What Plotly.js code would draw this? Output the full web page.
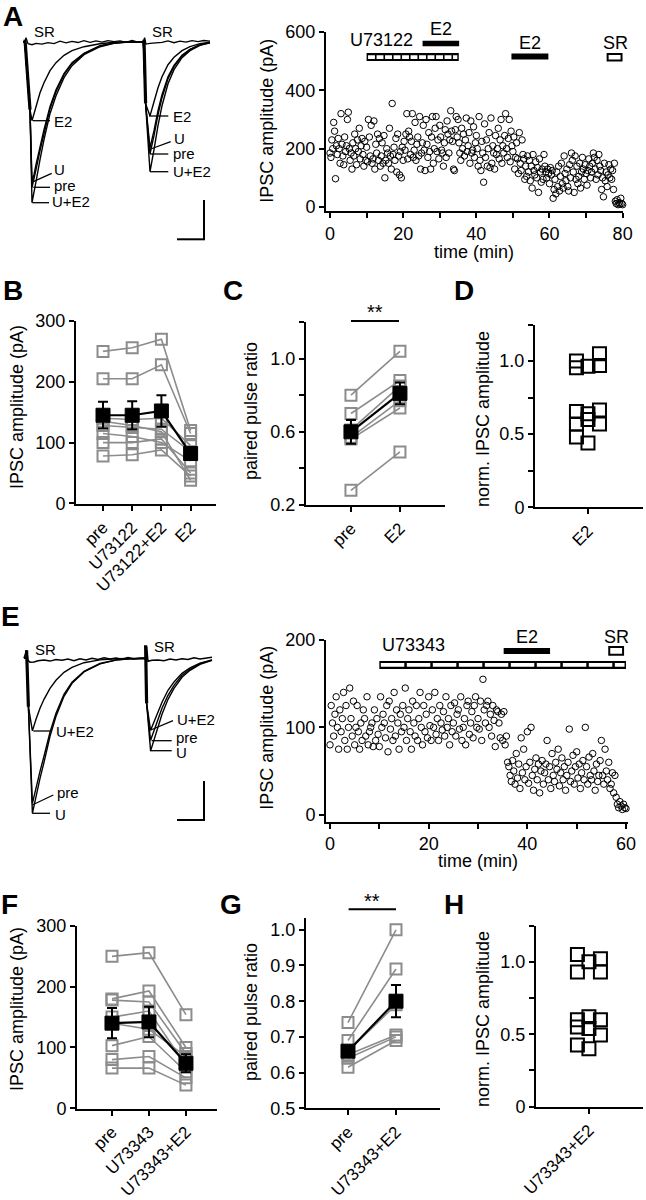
<!DOCTYPE html>
<html><head><meta charset="utf-8">
<script src="https://cdn.plot.ly/plotly-3.0.1.min.js"></script>
<style>html,body{margin:0;padding:0;background:#fff}#fig{width:646px;height:1200px}</style>
</head><body><div id="fig"></div>
<script>
// ---------- DATA ----------
// Panel A traces (time ms, current pA)
const tA = [11.5,12.5,13.5,15,16,17,18,20,22,25,28,32,36,42,50,57,64,71.7,72.3,72.8,75,76,77,79,81,84,87,91,95,100,105];
const aUE2 = [0,0,-150,-340,-805,-760,-700,-590,-490,-360,-270,-180,-120,-65,-25,-8,-2,0,-150,-310,-650,-600,-540,-420,-320,-210,-140,-80,-45,-18,-5];
const aPre = [0,0,-150,-340,-728,-690,-640,-545,-455,-335,-250,-165,-110,-60,-22,-7,-2,0,-150,-310,-561,-520,-470,-365,-280,-185,-125,-72,-40,-16,-4];
const aU   = [0,0,-150,-340,-700,-665,-615,-525,-440,-325,-240,-160,-105,-58,-20,-6,-1,0,-150,-310,-531,-495,-445,-345,-265,-175,-118,-68,-38,-15,-4];
const aE2  = [0,0,-150,-340,-395,-360,-320,-255,-205,-145,-105,-68,-45,-25,-10,-3,-1,0,-150,-310,-371,-340,-300,-230,-175,-115,-78,-45,-25,-10,-3];
const tSR = [11.5,12.5,13,14,16,18,21,24,27,30,33,36,39,42,45,48,51,54,57,60,63,66,69,71.7,72.3,73,75,78,81,84,87,90,93,96,99,102,105];
const aSR = [0,0,20,-10,-15,-8,-12,-5,-10,3,-6,2,-4,5,-3,4,-2,5,0,4,-3,6,-2,0,20,-12,-8,-6,-3,4,-5,3,-2,5,0,6,3];
const tArtA = [12.5,15,null,72,72.8];
const aArt  = [10,-340,null,10,-307];

// Panel A time course (pA), one value every 0.25 min from 0 to 80 min
const aAmp = [
185,170,230,200, 290,260,97,210, 180,235,200,150, 320,215,175,145, 240,190,210,300,
325,200,160,185, 130,220,175,250, 200,145,230,190, 270,165,210,235, 180,140,225,160,
205,155,300,240, 175,280,150,165, 295,130,215,185, 250,160,235,140, 175,220,150,245,
100,160,200,185, 150,270,175,130, 355,180,205,160, 235,120,250,175, 110,190,100,205,
160,225,195,250, 320,165,260,240, 180,225,320,170, 195,290,160,215, 240,175,310,130,
185,220,280,195, 125,300,215,170, 255,190,130,240, 310,150,200,270, 310,190,230,165,
280,240,195,185, 140,220,265,170, 295,250,185,230, 330,260,225,130, 125,265,310,240,
300,220,185,160, 270,200,250,175, 230,305,190,210, 255,150,295,185, 195,275,170,220,
245,200,140,310, 160,125,225,185, 85,285,170,230, 140,200,255,135, 305,150,210,185,
130,245,180,200, 270,165,230,300, 150,210,185,245, 320,200,170,235, 300,155,260,210,
190,240,130,170, 220,165,115,255, 150,125,230,180, 165,95,140,105, 175,120,160,90,
140,65,180,125, 110,155,100,135, 50,165,120,85, 130,95,180,140, 120,100,130,115,
80,135,110,125, 30,60,95,45, 120,70,140,55, 105,150,80,65, 175,115,90,130,
70,55,145,100, 185,160,120,50, 175,95,140,80, 105,150,65,120, 170,130,95,145,
115,75,125,165, 140,100,120,150, 185,170,130,95, 160,110,180,140, 125,60,100,35,
150,90,120,70, 110,145,100,130, 95,125,60,150, 20,12,25,8, 15,10,30,12,
8];
// drug application periods (min) panel A
const aU73122 = [10, 35.2];
const aE2first = [25.3, 35.3];
const aE2second = [49.6, 59.7];
const aSRperiod = [75.9, 79.7];

// Panel B
const bCats = ["pre","U73122","U73122+E2","E2"];
const bPre    = [250,205,140,128,115,100,78,135];
const bU73122 = [256,205,138,125,110,100,80,128];
const bUE2    = [270,228,140,122,100,106,88,118];
const bE2     = [120,115,95,85,70,50,45,38];
const bMean = [145,145,152,82];
const bSem  = [22,23,26,10];

// Panel C
const cCats = ["pre","E2"];
const cPre = [0.80,0.70,0.61,0.57,0.56,0.28];
const cE2  = [1.04,0.88,0.85,0.77,0.73,0.49];
const cMean = [0.60,0.81];
const cSem  = [0.065,0.06];

// Panel D (normalized amplitude, column offset)
const dCats = ["E2"];
const dVal    = [1.0,0.955,0.965,1.05,0.97, 0.655,0.64,0.665,0.57,0.6,0.57,0.48,0.44];
const dColumn = [-1,-1,0,1,1, -1,0,1,-1,0,1,-1,0];

// Panel E traces
const tE = [12,13.3,13.8,14.2,16.2,17,18,20,22,25,28,32,36,42,50,58,65,72.8,73.1,73.3,75.3,76,77,79,81,84,87,91,95,100,106];
const eU   = [0,0,-100,-242,-775,-735,-690,-600,-520,-390,-290,-190,-125,-68,-28,-9,-3,0,-100,-225,-463,-440,-410,-340,-280,-205,-150,-95,-60,-30,-10];
const ePre = [0,0,-100,-242,-725,-690,-650,-565,-490,-370,-275,-180,-120,-65,-26,-8,-3,0,-100,-225,-410,-390,-365,-305,-250,-185,-135,-85,-55,-27,-9];
const eUE2 = [0,0,-100,-242,-363,-335,-305,-250,-205,-150,-110,-70,-45,-22,-8,-2,0,0,-100,-225,-360,-342,-320,-265,-220,-160,-118,-75,-48,-24,-8];
const tSRE = [12,13.3,14,15,17,19,22,25,28,31,34,37,40,43,46,49,52,55,58,61,64,67,70,72.8,73.3,74,76,79,82,85,88,91,94,97,100,103,106];
const eSR  = [0,40,-10,-20,-18,-12,-8,-14,-6,-10,-4,-12,-2,-8,0,-6,3,-4,2,-5,4,-3,0,0,60,-15,-10,-8,-12,-4,-9,-2,-6,3,-4,2,5];
const tArtE = [13.3,14.2,null,72.8,73.3];
const eArt  = [40,-242,null,65,-225];

// Panel E time course (pA), one value every 0.25 min from 0 to 60 min
const eAmp = [
80,125,105,90, 115,135,100,75, 120,95,110,140, 85,125,75,100, 145,110,90,130,
80,100,125,95, 75,105,85,120, 110,90,135,80, 95,100,105,78, 120,85,110,92,
78,135,100,115, 105,88,125,72, 130,98,110,85, 140,90,120,105, 75,115,95,125,
100,145,85,110, 120,95,75,130, 105,90,125,85, 110,140,100,80, 125,95,115,88,
135,102,85,120, 100,140,92,110, 85,125,105,97, 118,90,135,100, 110,80,125,95,
105,128,90,115, 120,98,135,85, 100,110,80,125, 130,92,105,118, 88,125,135,100,
110,98,130,85, 155,120,105,125, 130,100,115,90, 125,108,78,120, 118,105,88,115,
85,118,80,90, 60,55,45,38, 62,50,35,70, 42,58,30,88, 48,75,40,55,
95,36,60,100, 45,28,52,65, 40,58,25,50, 62,35,48,58, 85,40,55,30,
70,45,38,60, 52,75,33,48, 65,40,55,28, 45,60,98,38, 50,68,35,55,
72,42,58,30, 48,62,40,100, 55,35,66,45, 40,70,50,28, 58,38,45,62,
85,45,35,75, 50,40,60,30, 35,48,25,45, 20,12,8,15, 10,6,12,8,
7];
const eU73343 = [10, 60];
const eE2 = [35.2, 44.6];
const eSRperiod = [56.6, 59.4];

// Panel F
const fCats = ["pre","U73343","U73343+E2"];
const fPre  = [250,180,178,103,80,66,140,150];
const fU    = [256,193,175,118,85,66,130,160];
const fUE2  = [154,100,90,60,50,38,85,70];
const fMean = [140,142,74];
const fSem  = [25,25,15];

// Panel G
const gCats = ["pre","U73343+E2"];
const gPre = [0.74,0.69,0.66,0.64,0.615,0.65];
const gE2  = [1.0,0.89,0.79,0.70,0.69,0.705];
const gMean = [0.66,0.80];
const gSem  = [0.012,0.045];

// Panel H
const hCats = ["U73343+E2"];
const hVal    = [1.05,0.93,1.0,1.02,0.93, 0.60,0.425,0.62,0.54,0.40,0.60,0.495,0.55];
const hColumn = [-1,-1,0,1,1, -1,-1,0,0,0,1,1,-1];

// ---------- LAYOUT HELPERS ----------
const W = 646, H = 1200;
const px = x => x / W;
const py = y => 1 - y / H;
const dX = (a, b) => [a / W, b / W];
const dY = (top, bottom) => [1 - bottom / H, 1 - top / H];
const FONT = 'Liberation Sans, Arial, Helvetica, sans-serif';
const GRAY = '#8c8c8c';

function ax(extra) {
  return Object.assign({
    showline: true, linecolor: '#000', linewidth: 2, ticks: 'outside', ticklen: 5,
    tickwidth: 2, tickcolor: '#000', showgrid: false, zeroline: false,
    tickfont: {size: 18, color: '#000', family: FONT}, fixedrange: true, automargin: false
  }, extra);
}
const rotFont = {size: 17, color: '#000', family: FONT};

const data = [];
function addLine(x, y, xa, ya, color, width) {
  data.push({type: 'scatter', mode: 'lines', x: x, y: y, xaxis: xa, yaxis: ya,
    line: {color: color, width: width}, hoverinfo: 'skip', connectgaps: false});
}
// A traces
[aUE2, aPre, aU, aE2].forEach(v => addLine(tA, v, 'x', 'y', '#000', 1.4));
addLine(tSR, aSR, 'x', 'y', '#000', 1.3);
addLine(tArtA, aArt, 'x', 'y', '#000', 3.2);
// E traces
[eU, ePre, eUE2].forEach(v => addLine(tE, v, 'x6', 'y6', '#000', 1.4));
addLine(tSRE, eSR, 'x6', 'y6', '#000', 1.5);
addLine(tArtE, eArt, 'x6', 'y6', '#000', 3.2);

// time courses
const circ = {symbol: 'circle-open', size: 6.5, color: '#000', line: {width: 1, color: '#000'}};
data.push({type: 'scatter', mode: 'markers', y: aAmp, x0: 0, dx: 0.25, xaxis: 'x2', yaxis: 'y2', marker: circ, cliponaxis: false});
data.push({type: 'scatter', mode: 'markers', y: eAmp, x0: 0, dx: 0.25, xaxis: 'x7', yaxis: 'y7', marker: circ, cliponaxis: false});

const grayMk = {symbol: 'square-open', size: 11, color: GRAY, line: {width: 2, color: GRAY}};
const meanMk = {symbol: 'square', size: 14, color: '#000', line: {width: 1, color: '#000'}};
function pairedPanel(cols, mean, sem, xa, ya) {
  const n = cols[0].length;
  const xs = cols.map((c, i) => i);
  for (let k = 0; k < n; k++) {
    data.push({type: 'scatter', mode: 'lines+markers', x: xs, y: cols.map(c => c[k]), xaxis: xa, yaxis: ya,
      line: {color: GRAY, width: 1.6}, marker: grayMk, cliponaxis: false});
  }
  data.push({type: 'scatter', mode: 'lines+markers', x: xs, y: mean, xaxis: xa, yaxis: ya,
    line: {color: '#000', width: 2.2}, marker: meanMk, cliponaxis: false,
    error_y: {type: 'data', array: sem, visible: true, color: '#000', thickness: 2, width: 5}});
}
pairedPanel([bPre, bU73122, bUE2, bE2], bMean, bSem, 'x3', 'y3');
pairedPanel([cPre, cE2], cMean, cSem, 'x4', 'y4');
pairedPanel([fPre, fU, fUE2], fMean, fSem, 'x8', 'y8');
pairedPanel([gPre, gE2], gMean, gSem, 'x9', 'y9');

const normMk = {symbol: 'square-open', size: 13, color: '#000', line: {width: 2, color: '#000'}};
data.push({type: 'scatter', mode: 'markers', x: dColumn, y: dVal, xaxis: 'x5', yaxis: 'y5', marker: normMk, cliponaxis: false});
data.push({type: 'scatter', mode: 'markers', x: hColumn, y: hVal, xaxis: 'x10', yaxis: 'y10', marker: normMk, cliponaxis: false});

// ---------- AXES ----------
const layout = {
  width: W, height: H, margin: {l: 0, r: 0, t: 0, b: 0}, showlegend: false,
  paper_bgcolor: '#fff', plot_bgcolor: 'rgba(0,0,0,0)', font: {family: FONT, color: '#000', size: 18},
  // A traces
  xaxis: {visible: false, domain: dX(0, 230), range: [0, 115], anchor: 'y', fixedrange: true},
  yaxis: {visible: false, domain: dY(0, 240), range: [-991.5, 208.5], anchor: 'x', fixedrange: true},
  // A time course
  xaxis2: ax({domain: dX(326, 623), range: [-1.1, 80.1], anchor: 'y2', tick0: 0, dtick: 20,
    minor: {dtick: 10, ticks: 'outside', ticklen: 5, tickwidth: 2, tickcolor: '#000'}}),
  yaxis2: ax({domain: dY(32, 211), range: [-13.7, 600], anchor: 'x2', tickvals: [0, 200, 400, 600]}),
  // B
  xaxis3: ax({domain: dX(76, 216), range: [-0.925, 3.87], anchor: 'y3', tickvals: [0, 1, 2, 3], ticktext: bCats, tickangle: -45, tickfont: rotFont}),
  yaxis3: ax({domain: dY(321, 504), range: [-1, 300], anchor: 'x3', tickvals: [0, 100, 200, 300]}),
  // C
  xaxis4: ax({domain: dX(306, 445), range: [-0.918, 1.92], anchor: 'y4', tickvals: [0, 1], ticktext: cCats, tickangle: -45, tickfont: rotFont}),
  yaxis4: ax({domain: dY(322, 505), range: [0.2, 1.2], anchor: 'x4', tickvals: [0.2, 0.6, 1.0], ticktext: ['0.2', '0.6', '1.0'],
    minor: {tickvals: [0.4, 0.8, 1.2], ticks: 'outside', ticklen: 5, tickwidth: 2, tickcolor: '#000'}}),
  // D
  xaxis5: ax({domain: dX(535, 643), range: [-4.6, 4.78], anchor: 'y5', tickvals: [0], ticktext: dCats, tickangle: -45, tickfont: rotFont}),
  yaxis5: ax({domain: dY(324.5, 507.3), range: [0, 1.25], anchor: 'x5', tickvals: [0, 0.5, 1.0], ticktext: ['0', '0.5', '1.0'],
    minor: {tickvals: [0.25, 0.75, 1.25], ticks: 'outside', ticklen: 5, tickwidth: 2, tickcolor: '#000'}}),
  // E traces
  xaxis6: {visible: false, domain: dX(0, 230), range: [0, 115], anchor: 'y6', fixedrange: true},
  yaxis6: {visible: false, domain: dY(600, 840), range: [-908.5, 291.5], anchor: 'x6', fixedrange: true},
  // E time course
  xaxis7: ax({domain: dX(326, 628), range: [-0.81, 60.4], anchor: 'y7', tick0: 0, dtick: 20,
    minor: {dtick: 10, ticks: 'outside', ticklen: 5, tickwidth: 2, tickcolor: '#000'}}),
  yaxis7: ax({domain: dY(640, 821.7), range: [-8, 200], anchor: 'x7', tickvals: [0, 100, 200]}),
  // F
  xaxis8: ax({domain: dX(77, 217), range: [-0.946, 2.84], anchor: 'y8', tickvals: [0, 1, 2], ticktext: fCats, tickangle: -45, tickfont: rotFont}),
  yaxis8: ax({domain: dY(926, 1108.5), range: [-0.5, 300], anchor: 'x8', tickvals: [0, 100, 200, 300]}),
  // G
  xaxis9: ax({domain: dX(306, 440), range: [-0.875, 1.917], anchor: 'y9', tickvals: [0, 1], ticktext: gCats, tickangle: -45, tickfont: rotFont}),
  yaxis9: ax({domain: dY(918, 1108.3), range: [0.5, 1.033], anchor: 'x9', tickvals: [0.5, 0.6, 0.7, 0.8, 0.9, 1.0],
    ticktext: ['0.5', '0.6', '0.7', '0.8', '0.9', '1.0']}),
  // H
  xaxis10: ax({domain: dX(536, 643), range: [-4.6, 4.7], anchor: 'y10', tickvals: [0], ticktext: hCats, tickangle: -45, tickfont: rotFont}),
  yaxis10: ax({domain: dY(925.5, 1106.7), range: [0, 1.25], anchor: 'x10', tickvals: [0, 0.5, 1.0], ticktext: ['0', '0.5', '1.0'],
    minor: {tickvals: [0.25, 0.75, 1.25], ticks: 'outside', ticklen: 5, tickwidth: 2, tickcolor: '#000'}})
};

// ---------- ANNOTATIONS ----------
const ann = [];
function txt(x, y, s, opt) {
  ann.push(Object.assign({xref: 'paper', yref: 'paper', x: px(x), y: py(y), text: s, showarrow: false,
    xanchor: 'center', yanchor: 'middle', font: {size: 18, color: '#000', family: FONT}}, opt || {}));
}
const bold = {font: {size: 28, color: '#000', family: FONT, weight: 'bold'}};
txt(13, 17, '<b>A</b>', bold); txt(13, 290, '<b>B</b>', bold); txt(233, 290, '<b>C</b>', bold); txt(464, 290, '<b>D</b>', bold);
txt(10, 616, '<b>E</b>', bold); txt(9, 904, '<b>F</b>', bold); txt(231, 904, '<b>G</b>', bold); txt(454, 904, '<b>H</b>', bold);
const rot = {textangle: -90};
txt(266.7, 121, 'IPSC amplitude (pA)', rot);
txt(266.7, 728, 'IPSC amplitude (pA)', rot);
txt(17, 407, 'IPSC amplitude (pA)', rot);
txt(17, 1009, 'IPSC amplitude (pA)', rot);
txt(251, 411, 'paired pulse ratio', rot);
txt(251, 1012, 'paired pulse ratio', rot);
txt(483, 419, 'norm. IPSC amplitude', rot);
txt(483, 1019, 'norm. IPSC amplitude', rot);
txt(474, 252, 'time (min)', {yanchor: 'middle'});
txt(478, 861, 'time (min)');
// drug labels
txt(381.5, 40, 'U73122'); txt(441, 29, 'E2'); txt(530, 43, 'E2'); txt(615, 43, 'SR');
txt(413, 645, 'U73343'); txt(527, 637, 'E2'); txt(616, 637, 'SR');
// significance
txt(375, 312, '**', {font: {size: 20, color: '#000', family: FONT}});
txt(372, 901, '**', {font: {size: 20, color: '#000', family: FONT}});
// trace labels
const L = {xanchor: 'left', font: {size: 15, color: '#000', family: FONT}};
txt(32, 32, 'SR', L); txt(150, 32, 'SR', L);
txt(52, 121, 'E2', L); txt(52, 169.5, 'U', L); txt(52, 185, 'pre', L); txt(50, 201.5, 'U+E2', L);
txt(171, 116.5, 'E2', L); txt(172, 138, 'U', L); txt(171, 154, 'pre', L); txt(171, 171.5, 'U+E2', L);
txt(33, 649, 'SR', L); txt(152, 646, 'SR', L);
txt(54, 731.5, 'U+E2', L); txt(55, 792, 'pre', L); txt(53, 814, 'U', L);
txt(175, 719, 'U+E2', L); txt(174, 737, 'pre', L); txt(174, 752.5, 'U', L);
layout.annotations = ann;

// ---------- SHAPES ----------
const shp = [];
function pline(x0, y0, x1, y1, w) {
  shp.push({type: 'line', xref: 'paper', yref: 'paper', x0: px(x0), y0: py(y0), x1: px(x1), y1: py(y1), line: {color: '#000', width: w || 1.3}});
}
// leader lines A
pline(33, 120.7, 50, 120.7); pline(33.3, 181.7, 51.7, 173.3); pline(33.3, 187.3, 50, 187.3); pline(32.3, 202.7, 49, 202.7);
pline(149, 116, 168.3, 116); pline(150.7, 149, 170.7, 141.7); pline(150, 154, 168.3, 154); pline(150, 171.7, 168.3, 171.7);
// leader lines E
pline(33.3, 731, 51, 731); pline(32.3, 805, 53.3, 795); pline(32.3, 813.3, 50, 813.3);
pline(150.7, 730, 173, 720.7); pline(151.7, 740.7, 171.7, 740.7); pline(150, 750.7, 171.7, 750.7);
// scale bars
pline(204, 200, 204, 239.3, 2); pline(177, 239.3, 205, 239.3, 2);
pline(204, 781, 204, 820, 2); pline(177, 820, 205, 820, 2);
// significance bars
pline(351, 321, 399, 321, 2); pline(348.6, 909.3, 396, 909.3, 2);

function dline(xr, yr, x0, x1, y, w, color, dash) {
  shp.push({type: 'line', xref: xr, yref: yr, x0: x0, x1: x1, y0: y, y1: y, line: {color: color, width: w, dash: dash || 'solid'}});
}
function orect(xr, yr, x0, x1, y0, y1) {
  shp.push({type: 'rect', xref: xr, yref: yr, x0: x0, x1: x1, y0: y0, y1: y1, fillcolor: '#fff', line: {color: '#000', width: 2}});
}
// A drug bars
dline('x2', 'y2', aU73122[0], aU73122[1], 514, 8, '#000');
dline('x2', 'y2', aU73122[0] + 0.4, aU73122[1] - 0.4, 514, 3.6, '#fff', '6.9px,1.6px');
dline('x2', 'y2', aE2first[0], aE2first[1], 561, 5.5, '#000');
dline('x2', 'y2', aE2second[0], aE2second[1], 516, 6, '#000');
orect('x2', 'y2', aSRperiod[0], aSRperiod[1], 502, 525);
// E drug bars
dline('x7', 'y7', eU73343[0], eU73343[1], 171.5, 8, '#000');
dline('x7', 'y7', eU73343[0] + 0.3, eU73343[1] - 0.3, 171.5, 3.8, '#fff', '23.5px,2.5px');
dline('x7', 'y7', eE2[0], eE2[1], 187.5, 6, '#000');
orect('x7', 'y7', eSRperiod[0], eSRperiod[1], 183, 192);
layout.shapes = shp;

Plotly.newPlot('fig', data, layout, {staticPlot: true, displayModeBar: false});
</script>
</body></html>
